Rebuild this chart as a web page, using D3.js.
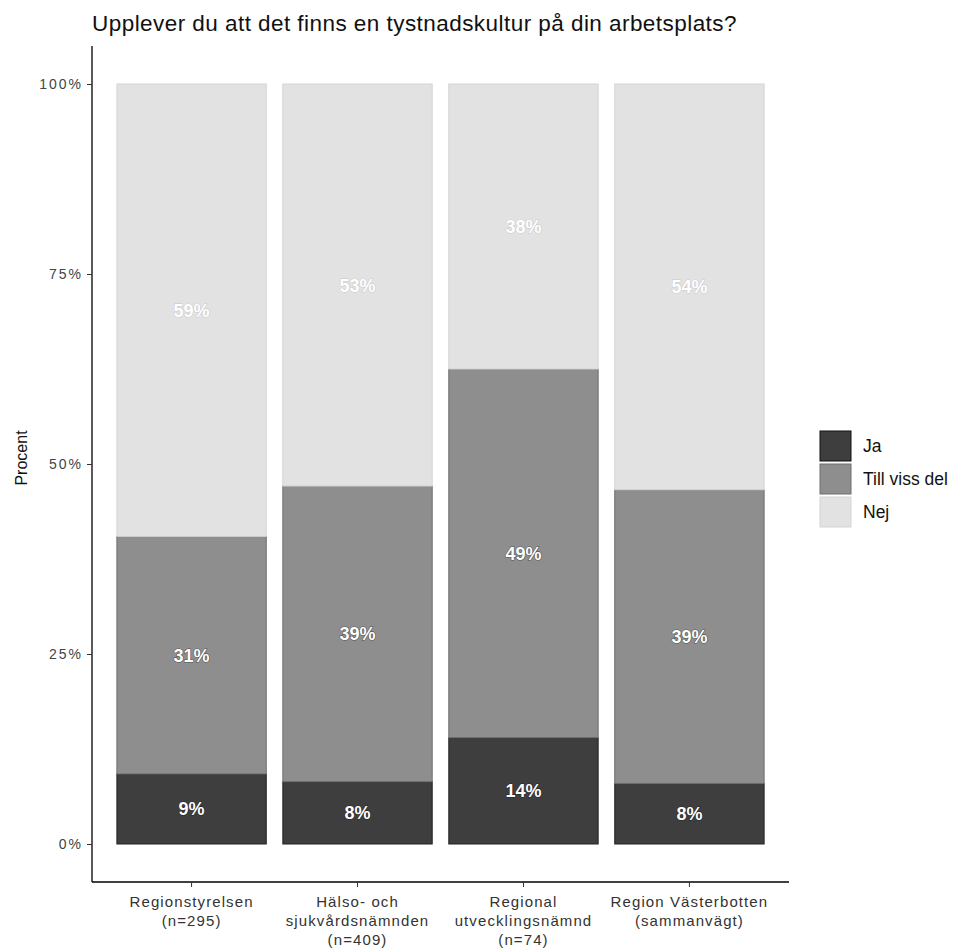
<!DOCTYPE html>
<html><head><meta charset="utf-8">
<script src="https://cdn.jsdelivr.net/npm/d3@7/dist/d3.min.js"></script>
<style>body{margin:0;background:#fff}svg{font-family:"Liberation Sans",Arial,sans-serif}</style>
</head><body><svg id="c" width="955" height="949"></svg>
<script>
const title = "Upplever du att det finns en tystnadskultur på din arbetsplats?";
const categories = [
  ["Regionstyrelsen", "(n=295)"],
  ["Hälso- och", "sjukvårdsnämnden", "(n=409)"],
  ["Regional", "utvecklingsnämnd", "(n=74)"],
  ["Region Västerbotten", "(sammanvägt)"]
];
const seriesNames = ["Ja", "Till viss del", "Nej"];
const ja  = [9.2, 8.2, 14.0, 8.0];
const tvd = [31.2, 38.9, 48.5, 38.8];
const nej = [59.4, 52.9, 37.5, 53.6];
const yTicks = [0, 0.25, 0.5, 0.75, 1];
const yTickLabels = ["0%", "25%", "50%", "75%", "100%"];
const yLabel = "Procent";

const fills = ["#3e3e3e", "#8e8e8e", "#e2e2e2"];
const strokes = ["#222", "#6e6e6e", "#d4d4d4"];

const svg = d3.select("#c");
const mLeft = 92, mRight = 789, mTop = 46, mBottom = 882;

const data = categories.map((c, i) => {
  const vals = [ja[i], tvd[i], nej[i]];
  const tot = d3.sum(vals);
  let cum = 0;
  return vals.map((v, k) => { const s = {i, k, v, y0: cum / tot, y1: (cum + v) / tot}; cum += v; return s; });
});

const x = d3.scaleBand().domain(d3.range(categories.length)).range([mLeft, mRight]).paddingInner(0.1).paddingOuter(0.15);
const y = d3.scaleLinear().domain([-0.05, 1.05]).range([mBottom, mTop]);

// title
svg.append("text").attr("x", mLeft).attr("y", 31).attr("font-size", 22.5).attr("letter-spacing", 0.45)
  .attr("fill", "#111").text(title);

// bars
const g = svg.append("g");
data.flat().forEach(s => {
  g.append("rect")
    .attr("x", x(s.i)).attr("width", x.bandwidth())
    .attr("y", y(s.y1)).attr("height", y(s.y0) - y(s.y1))
    .attr("fill", fills[s.k]).attr("stroke", strokes[s.k]).attr("stroke-width", 1);
});
data.flat().forEach(s => {
  g.append("text")
    .attr("x", x(s.i) + x.bandwidth() / 2)
    .attr("y", y((s.y0 + s.y1) / 2) + 6.5)
    .attr("text-anchor", "middle").attr("font-size", 18).attr("font-weight", "bold")
    .attr("fill", "#fff")
    .attr("stroke", s.k === 2 ? "rgba(0,0,0,0.12)" : "rgba(0,0,0,0.45)").attr("stroke-width", 1.2)
    .attr("paint-order", "stroke")
    .text(Math.round(s.v) + "%");
});

// y axis
const ya = svg.append("g").attr("transform", `translate(${mLeft},0)`)
  .call(d3.axisLeft(y).tickValues(yTicks).tickFormat((d, i) => yTickLabels[i]).tickSize(5).tickPadding(4));
ya.select(".domain").attr("stroke", "#000").attr("stroke-width", 1.3).attr("d", `M0,${mTop}V${mBottom}`);
ya.selectAll(".tick line").attr("stroke", "#333");
ya.selectAll(".tick text").attr("font-size", 14).attr("fill", "#444").attr("letter-spacing", 2)
  .attr("font-family", "Liberation Sans, Arial, sans-serif");

// x axis
const xa = svg.append("g").attr("transform", `translate(0,${mBottom})`)
  .call(d3.axisBottom(x).tickFormat("").tickSize(5));
xa.select(".domain").attr("stroke", "#000").attr("stroke-width", 1.3).attr("d", `M${mLeft},0H${mRight}`);
xa.selectAll(".tick line").attr("stroke", "#333");
xa.selectAll(".tick").each(function(d) {
  const t = d3.select(this).append("text").attr("text-anchor", "middle").attr("fill", "#333")
    .attr("font-size", 15).attr("letter-spacing", 1.1).attr("font-family", "Liberation Sans, Arial, sans-serif");
  categories[d].forEach((line, j) => t.append("tspan").attr("x", 0).attr("y", 25 + j * 19).text(line));
});

// y label
svg.append("text").attr("transform", `translate(27,458) rotate(-90)`).attr("text-anchor", "middle")
  .attr("font-size", 16).attr("fill", "#111").text(yLabel);

// legend
const lg = svg.append("g").attr("transform", "translate(820,431)");
seriesNames.forEach((n, k) => {
  lg.append("rect").attr("x", 0).attr("y", k * 33).attr("width", 31).attr("height", 30)
    .attr("fill", fills[k]).attr("stroke", k === 0 ? "#111" : strokes[k]);
  lg.append("text").attr("x", 43).attr("y", k * 33 + 21).attr("font-size", 17.5).attr("fill", "#111").text(n);
});
</script></body></html>
